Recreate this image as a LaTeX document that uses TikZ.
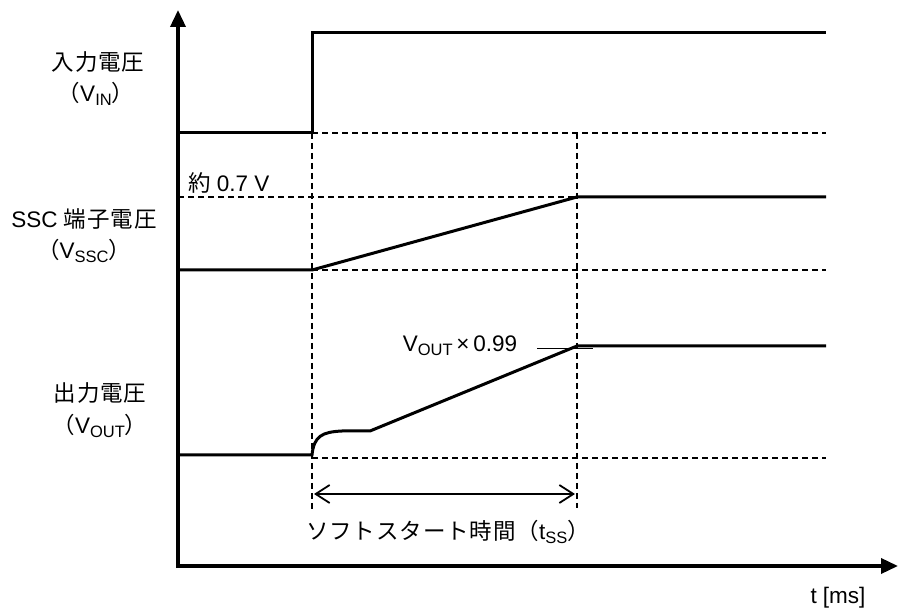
\documentclass[tikz,border=0pt]{standalone}
\usepackage{fontspec}
\usetikzlibrary{arrows.meta}
\setmainfont{Liberation Sans}
\newfontfamily\jp[LetterSpace=4]{Noto Sans CJK JP}
\newcommand{\lowsub}[1]{\raisebox{-0.35ex}{\fontsize{16.5}{16}\selectfont #1}}
\begin{document}
\begin{tikzpicture}[x=1pt,y=-1pt,
    wave/.style={line width=3pt},
    guide/.style={line width=1.3pt,dash pattern=on 6pt off 4pt},
    axis/.style={line width=3.5pt,-{Triangle[length=17pt,width=15pt]}},
    lbl/.style={font=\fontsize{22.5}{26}\selectfont,inner sep=0pt}]
    \useasboundingbox (0,0) rectangle (898,612);
    % guides
    \draw[guide]
      (312,133) -- (826,133)
      (178,197) -- (577,197)
      (312,270) -- (826,270)
      (312,458) -- (826,458)
      (312,133) -- (312,512)
      (577,133) -- (577,508)
    ;
    % waves
    \draw[wave] (178,133) -- (312,133) -- (312,33) -- (826,33);
    \draw[wave] (178,270) -- (312,270) -- (577,197) -- (826,197);
    \draw[wave] (178,455) -- (312,455) .. controls (314,436) and (322,432) .. (342,431)
      -- (370,431) -- (577,346) -- (826,346);
    \draw[line width=1pt] (537,349) -- (593,349);
    % axes
    \draw[axis] (178,568) -- (178,10);
    \draw[axis] (176,566) -- (898,566);
    % soft start span
    \draw[line width=1.8pt,{Straight Barb[length=14pt,width=18pt]}-{Straight Barb[length=14pt,width=18pt]}] (314,494) -- (575,494);
    % labels
    \node[lbl] (vin) at (98,62) {\jp 入力電圧};
    \node[lbl] (vinsym) at (96,94) {\jp （\rmfamily V\lowsub{IN}\jp ）};
    \node[lbl] (vssc) at (84,219) {SSC {\jp 端子電圧}};
    \node[lbl] (vsscsym) at (84,251) {\jp （\rmfamily V\lowsub{SSC}\jp ）};
    \node[lbl] (vout) at (100,393) {\jp 出力電圧};
    \node[lbl] (voutsym) at (100,426) {\jp （\rmfamily V\lowsub{OUT}\jp ）};
    \node[lbl,anchor=west] (vref) at (188,183) {{\jp 約} 0.7 V};
    \node[lbl] (vtgt) at (460,346) {V\lowsub{OUT}\,×\,0.99};
    \node[lbl] (tss) at (448,532) {\jp ソフトスタート時間（\rmfamily t\lowsub{SS}\jp ）};
    \node[lbl] (tms) at (838,598) {t [ms]};
  \end{tikzpicture}
\end{document}
